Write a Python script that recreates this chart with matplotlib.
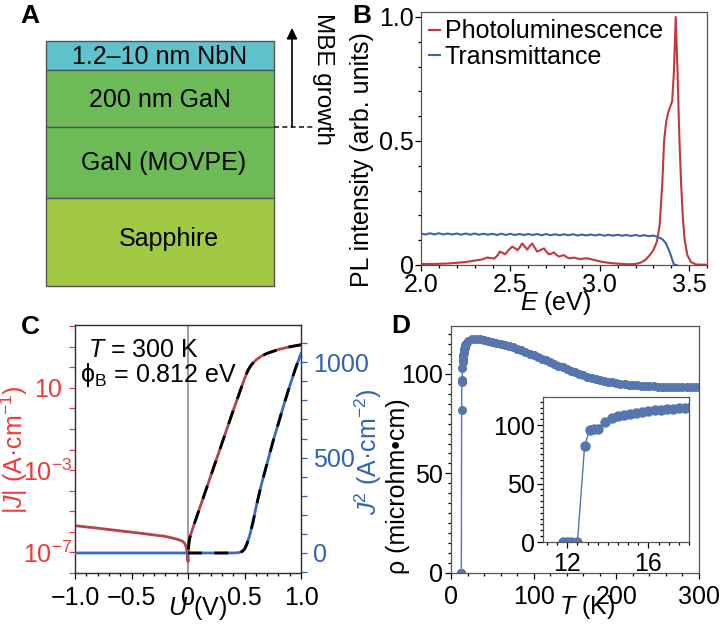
import numpy as np
import matplotlib
matplotlib.use('Agg')
import matplotlib.pyplot as plt
from matplotlib.ticker import MultipleLocator, NullLocator
from matplotlib.patches import Rectangle

# ---- panel A: layer stack
layers = ['1.2–10 nm NbN', '200 nm GaN', 'GaN (MOVPE)', 'Sapphire']
layer_colors = ['#5ec3cc', '#6cbb56', '#6cbb56', '#a1c944']

# ---- panel B: PL and transmittance spectra
pl_E = [2.00, 2.07, 2.15, 2.22, 2.26, 2.30, 2.34, 2.37, 2.39, 2.41, 2.43, 2.44,
        2.455, 2.47, 2.49, 2.51, 2.525, 2.54, 2.553, 2.566, 2.58, 2.594, 2.608,
        2.622, 2.636, 2.65, 2.668, 2.688, 2.70, 2.715, 2.73, 2.743, 2.757,
        2.771, 2.785, 2.80, 2.814, 2.828, 2.842, 2.856, 2.875, 2.893, 2.91,
        2.93, 2.97, 3.01, 3.06, 3.11, 3.16, 3.20, 3.23, 3.255, 3.28, 3.30, 3.32,
        3.335, 3.35, 3.36, 3.372, 3.385, 3.395, 3.405, 3.415, 3.425, 3.435,
        3.445, 3.455, 3.465, 3.475, 3.49, 3.51, 3.54, 3.60]
pl_I = [0.004, 0.004, 0.006, 0.010, 0.013, 0.018, 0.022, 0.030, 0.028, 0.026,
        0.040, 0.054, 0.050, 0.043, 0.060, 0.074, 0.068, 0.060, 0.072, 0.087,
        0.075, 0.062, 0.076, 0.087, 0.070, 0.054, 0.060, 0.067, 0.055, 0.043,
        0.046, 0.051, 0.041, 0.034, 0.037, 0.040, 0.032, 0.027, 0.028, 0.030,
        0.026, 0.024, 0.026, 0.027, 0.020, 0.013, 0.008, 0.005, 0.003, 0.004,
        0.010, 0.020, 0.040, 0.060, 0.095, 0.16, 0.33, 0.50, 0.58, 0.62, 0.64,
        0.66, 0.78, 1.00, 0.78, 0.52, 0.33, 0.19, 0.10, 0.04, 0.012, 0.002,
        0.001]

tr_E = np.round(np.arange(2.0, 3.3001, 0.025), 3).tolist() + [3.325, 3.35, 3.37, 3.39, 3.405, 3.415, 3.43]
tr_I = [0.127, 0.123, 0.128, 0.123, 0.128, 0.123, 0.127, 0.123, 0.127, 0.122,
        0.127, 0.122, 0.127, 0.122, 0.126, 0.122, 0.126, 0.121, 0.126, 0.121,
        0.126, 0.121, 0.125, 0.121, 0.125, 0.121, 0.125, 0.120, 0.125, 0.120,
        0.124, 0.120, 0.124, 0.120, 0.124, 0.119, 0.123, 0.119, 0.123, 0.119,
        0.123, 0.118, 0.122, 0.118, 0.122, 0.118, 0.121, 0.117, 0.121, 0.117,
        0.120, 0.116, 0.119,
        0.113, 0.104, 0.088, 0.055, 0.022, 0.002, 0.0]

# ---- panel C: J-U characteristics
u_log = [-1.0, -0.8, -0.6, -0.4, -0.2, -0.1, -0.05, -0.03, -0.015, -0.006, 0.0,
         0.004, 0.01, 0.02, 0.05, 0.1, 0.2, 0.3, 0.4, 0.5, 0.53, 0.56, 0.6,
         0.65, 0.7, 0.8, 0.9, 1.0]
logJ = [-5.70, -5.82, -5.95, -6.08, -6.22, -6.35, -6.45, -6.55, -6.75, -7.10,
        -7.45, -6.85, -6.45, -6.20, -5.70, -4.90, -3.30, -1.70, -0.10, 1.45,
        1.85, 2.12, 2.35, 2.55, 2.68, 2.87, 3.00, 3.10]
u_sq = [-1.0, 0.40, 0.45, 0.48, 0.50, 0.52, 0.55, 0.58, 0.60, 0.65, 0.70, 0.75,
        0.80, 0.85, 0.90, 0.95, 1.00]
J_sq = [0, 0, 2, 8, 20, 45, 100, 175, 235, 360, 470, 580, 680, 780, 875, 965, 1045]

# ---- panel D: resistivity vs temperature
T_low = [11.8, 12.0, 12.2, 12.5, 12.85, 13.1, 13.3, 13.5, 13.85, 14.2, 14.5,
         14.8, 15.1, 15.4, 15.7, 16.0, 16.3, 16.6, 16.9, 17.2, 17.5, 17.8, 18.1]
rho_low = [0, 0, 0, 0, 82, 96, 96.5, 97, 103, 106, 107.5, 108.5, 109.5, 110.5,
           111.3, 112.0, 112.6, 113.2, 113.7, 114.1, 114.5, 114.8, 115.1]
T_high = list(range(20, 301, 5))
rho_high = [116.5, 117.4, 117.5, 117.4, 117.1, 116.7, 116.2, 115.7, 115.2, 114.6,
            114.0, 113.3, 112.6, 111.8, 111.0, 110.1, 109.3, 108.5, 107.6, 106.7,
            105.8, 104.9, 104.1, 103.2, 102.4, 101.6, 100.8, 100.0, 99.3, 98.6,
            98.0, 97.4, 96.9, 96.5, 96.1, 95.7, 95.4, 95.1, 94.8, 94.6, 94.4,
            94.2, 94.1, 93.9, 93.8, 93.7, 93.6, 93.6, 93.5, 93.5, 93.4, 93.4,
            93.4, 93.3, 93.3, 93.3, 93.3]

plt.rcParams['font.family'] = ['Liberation Sans', 'DejaVu Sans']
plt.rcParams['font.size'] = 18
plt.rcParams['mathtext.fontset'] = 'custom'
plt.rcParams['mathtext.rm'] = 'Liberation Sans'
plt.rcParams['mathtext.it'] = 'Liberation Sans:italic'
plt.rcParams['mathtext.bf'] = 'Liberation Sans:bold'

W, H = 720, 629
fig = plt.figure(figsize=(W / 100, H / 100), dpi=100)


def box(l, t, r, b):
    return [l / W, 1 - b / H, (r - l) / W, (b - t) / H]


def style(ax, spine='#555555'):
    for s in ax.spines.values():
        s.set_color(spine)
        s.set_linewidth(0.9)
    ax.tick_params(which='both', direction='out', width=0.9, labelsize=18)
    ax.tick_params(which='major', length=4.5)
    ax.tick_params(which='minor', length=2.5)


def put_ylabel(ax, text, x, y, **kw):
    ax.set_ylabel(text, fontsize=18, **kw)
    ax.yaxis.label.set_va('center')
    ax.yaxis.label.set_ha('center')
    ax.yaxis.set_label_coords(x, y)


def put_xlabel(ax, text, x, y):
    ax.set_xlabel(text, fontsize=18)
    ax.xaxis.label.set_va('center')
    ax.xaxis.set_label_coords(x, y)


# panel A
axA = fig.add_axes([0, 0, 1, 1])
axA.set_xlim(0, W)
axA.set_ylim(H, 0)
axA.axis('off')
edges = [41, 70, 127, 198, 286]
text_x = [160, 160, 164, 169]
text_y = [57, 100, 163, 239]
for i, (name, col) in enumerate(zip(layers, layer_colors)):
    axA.add_patch(Rectangle((46, edges[i]), 228, edges[i + 1] - edges[i],
                            facecolor=col, edgecolor='#555555', lw=1))
    axA.text(text_x[i], text_y[i], name, ha='center', va='center', fontsize=18)
axA.annotate('', xy=(292, 28), xytext=(292, 127),
             arrowprops=dict(arrowstyle='-|>', color='k', lw=1.2,
                             mutation_scale=16, shrinkA=0, shrinkB=0))
axA.plot([274, 313], [127, 127], color='#222222', lw=1.2, ls=(0, (3, 2)))
axA.text(323, 79, 'MBE growth', rotation=-90, ha='center', va='center',
         fontsize=17.5)
for lab, x, y in [('A', 30, 16), ('B', 362, 16), ('C', 30, 327), ('D', 401, 326)]:
    axA.text(x, y, lab, fontsize=19, fontweight='bold', ha='center', va='center')

# panel B
axB = fig.add_axes(box(421, 12, 707, 265))
axB.plot(pl_E, pl_I, color='#c0393f', lw=1.5, label='Photoluminescence')
axB.plot(tr_E, tr_I, color='#3d63aa', lw=1.5, label='Transmittance')
axB.set_xlim(2.0, 3.6)
axB.set_ylim(0, 1.02)
axB.set_xticks([2.0, 2.5, 3.0, 3.5])
axB.set_yticks([0, 0.5, 1.0])
axB.set_yticklabels(['0', '0.5', '1.0'])
axB.xaxis.set_minor_locator(MultipleLocator(0.1))
axB.yaxis.set_minor_locator(MultipleLocator(0.1))
style(axB)
axB.tick_params(axis='x', pad=1)
axB.tick_params(axis='y', pad=0.5)
put_ylabel(axB, 'PL intensity (arb. units)', -0.206, 0.415)
put_xlabel(axB, '$E$ (eV)', 0.47, -0.152)
axB.legend(loc='upper left', bbox_to_anchor=(0.0, 1.0), frameon=False,
           fontsize=18, handlelength=0.45, handletextpad=0.2,
           labelspacing=0.05, borderaxespad=0.1, borderpad=0.2)

# panel C
red_ax, blue_ax = '#ee3a3a', '#2f62b8'
axC = fig.add_axes(box(75, 325, 301, 573))
axC.axvline(0, color='#8c8c8c', lw=1.2, zorder=1)
Jabs = 10.0 ** np.array(logJ)
u_log_a = np.array(u_log)
axC.plot(u_log, Jabs, color='#b2464a', lw=2, zorder=3)
pos = u_log_a >= 0.004
axC.plot(u_log_a[pos], Jabs[pos], color='k', lw=2, dashes=(5, 4.5), zorder=4)
axC.set_yscale('log')
axC.set_ylim(1e-8, 1.15e4)
axC.set_xlim(-1, 1)
axC.set_xticks([-1, -0.5, 0, 0.5, 1])
axC.set_xticklabels(['−1.0', '−0.5', '0', '0.5', '1.0'])
axC.xaxis.set_minor_locator(MultipleLocator(0.1))
decades = list(range(-8, 5))
axC.set_yticks([10.0 ** k for k in decades])
lab_map = {1: '10', -3: '10$^{-3}$', -7: '10$^{-7}$'}
axC.set_yticklabels([lab_map.get(k, '') for k in decades])
axC.yaxis.set_minor_locator(NullLocator())
style(axC, spine='#333333')
axC.tick_params(axis='y', colors=red_ax, pad=15)
for t in axC.get_yticklabels():
    t.set_ha('center')
axC.tick_params(axis='x', pad=5)
put_ylabel(axC, '|$J$| (A·cm$^{-1}$)', -0.27, 0.496, color=red_ax)
put_xlabel(axC, '$U$ (V)', 0.54, -0.14)
axC.text(0.058, 0.90, '$T$ = 300 K', transform=axC.transAxes, ha='left',
         va='center', fontsize=18)
axC.text(0.022, 0.80, 'ϕ$_\\mathrm{B}$ = 0.812 eV', transform=axC.transAxes,
         ha='left', va='center', fontsize=18)

axC2 = axC.twinx()
axC2.plot(u_sq, J_sq, color='#3a6cc2', lw=2, zorder=3)
u_sq_a, J_sq_a = np.array(u_sq), np.array(J_sq)
axC2.plot(np.r_[0.0, u_sq_a[1:]], np.r_[0.0, J_sq_a[1:]], color='k', lw=2,
          dashes=(5, 4.5), zorder=4)
axC2.set_ylim(-105, 1195)
axC2.set_yticks(range(-100, 1101, 100))
axC2.set_yticklabels([str(v) if v in (0, 500, 1000) else '' for v in range(-100, 1101, 100)])
style(axC2, spine='#333333')
axC2.tick_params(axis='y', colors=blue_ax, pad=4)
put_ylabel(axC2, '$J$$^2$ (A·cm$^{-2}$)', 1.30, 0.488, color=blue_ax)

# panel D
dot = '#5676b0'
axD = fig.add_axes(box(451, 326, 699, 573))
T_all = T_low + T_high
rho_all = rho_low + rho_high
axD.plot(T_all, rho_all, '-o', color=dot, ms=5.5, lw=1, mec=dot)
axD.set_xlim(0, 300)
axD.set_ylim(0, 124)
axD.set_xticks([0, 100, 200, 300])
axD.set_yticks([0, 50, 100])
axD.xaxis.set_minor_locator(MultipleLocator(20))
axD.yaxis.set_minor_locator(MultipleLocator(5))
style(axD)
axD.tick_params(axis='y', pad=1.5)
axD.tick_params(axis='x', pad=4)
put_ylabel(axD, 'ρ (microhm•cm)', -0.215, 0.35)
put_xlabel(axD, '$T$ (K)', 0.548, -0.138)

axI = fig.add_axes(box(543, 397, 689, 542))
axI.plot(T_low, rho_low, '-o', color=dot, ms=6.5, lw=1, mec=dot)
axI.set_xlim(10.8, 18.0)
axI.set_ylim(0, 124)
axI.set_xticks([12, 16])
axI.set_yticks([0, 50, 100])
axI.xaxis.set_minor_locator(MultipleLocator(0.5))
axI.yaxis.set_minor_locator(MultipleLocator(5))
style(axI)
axI.tick_params(axis='y', pad=1.5)
axI.tick_params(axis='x', pad=3)

fig.savefig('out.png', dpi=100)
